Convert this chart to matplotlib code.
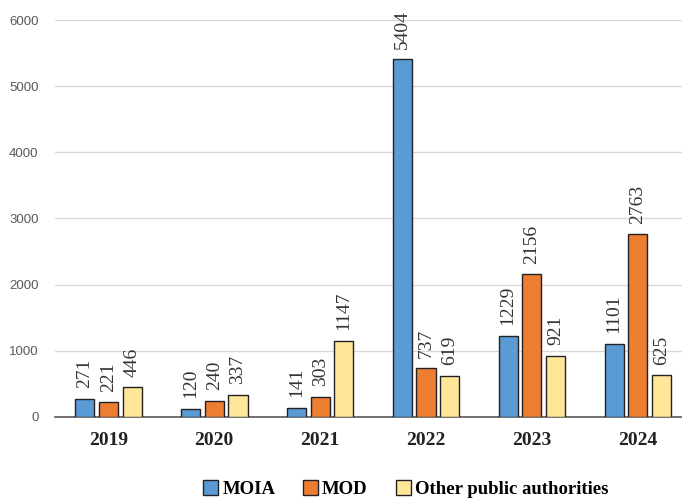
import numpy as np
import matplotlib.pyplot as plt

years = ["2019", "2020", "2021", "2022", "2023", "2024"]
moia = [271, 120, 141, 5404, 1229, 1101]
mod = [221, 240, 303, 737, 2156, 2763]
other = [446, 337, 1147, 619, 921, 625]

series = [("MOIA", moia, "#5B9BD5"),
          ("MOD", mod, "#ED7D31"),
          ("Other public authorities", other, "#FFE699")]

fig = plt.figure(figsize=(6.82, 5.01), dpi=100)
ax = fig.add_axes([0.081, 0.168, 0.932, 0.792])

x = np.arange(len(years))
width = 0.18
step = 0.225
for i, (name, vals, color) in enumerate(series):
    pos = x + (i - 1) * step
    bars = ax.bar(pos, vals, width, color=color, edgecolor="#222222",
                  linewidth=1.0, label=name, zorder=3)
    for b, v in zip(bars, vals):
        ax.text(b.get_x() + b.get_width() / 2, v + 160, str(v),
                rotation=90, ha="center", va="bottom",
                fontsize=14, family="Liberation Serif", color="#333333")

ax.set_xlim(-0.5, len(years) - 0.5)
ax.set_ylim(0, 6000)
ax.set_yticks(range(0, 6001, 1000))
ax.yaxis.grid(True, color="#d9d9d9", linewidth=1.0, zorder=0)
ax.tick_params(axis="y", length=0, labelsize=9.5, labelcolor="#595959", pad=12)
ax.tick_params(axis="x", length=0, pad=11)
ax.set_xticks(x)
ax.set_xticklabels(years, fontsize=14, fontweight="bold",
                   family="Liberation Serif", color="#222222")
for lbl in ax.get_yticklabels():
    lbl.set_family("Liberation Sans")
for s in ["top", "right", "left"]:
    ax.spines[s].set_visible(False)
ax.spines["bottom"].set_color("#595959")
ax.spines["bottom"].set_linewidth(1.2)

leg = fig.legend(loc="lower center", bbox_to_anchor=(0.595, -0.028), ncol=3,
                 frameon=False, handlelength=0.8, handleheight=0.8,
                 handletextpad=0.2, columnspacing=1.5,
                 prop={"family": "Liberation Serif", "weight": "bold", "size": 13.5})

fig.savefig("out.png", dpi=100)
